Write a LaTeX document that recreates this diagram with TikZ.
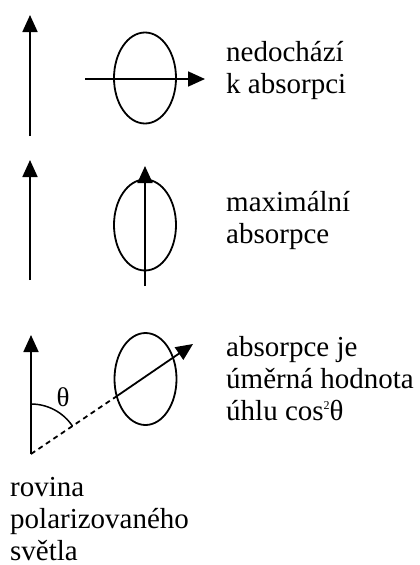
\documentclass[tikz,border=0pt]{standalone}
\usepackage{fontspec}
\setmainfont{Liberation Serif}
\usetikzlibrary{arrows.meta,shapes.geometric}
\tikzset{
  pol/.style={line width=1.8pt, -{Triangle[length=17pt,width=15pt]}},
  poldash/.style={line width=1.8pt, dash pattern=on 5pt off 4pt},
  ring/.style={draw, ellipse, line width=1.8pt, minimum width=62pt,
               minimum height=91pt, inner sep=0pt},
  caption/.style={anchor=base west, align=left, inner sep=0pt,
                  font=\fontsize{29}{32}\selectfont},
}
\newcommand{\smallsq}{\raisebox{11pt}{\fontsize{12}{12}\selectfont 2}}

\begin{document}
\begin{tikzpicture}[x=1pt, y=-1pt]
  \useasboundingbox (0,0) rectangle (420,565);
  % no absorption
  \coordinate (a1) at (30,136);
  \coordinate (b1) at (30,15);
  \draw[pol] (a1) -- (b1);
  \node[ring] (el1) at (145,78) {};
  \coordinate (h1) at (85,79);
  \coordinate (k1) at (205,79);
  \draw[pol] (h1) -- (k1);
  \node[caption] (t1) at (226,93.5) {nedochází\\k absorpci};
  % maximal absorption
  \coordinate (a2) at (30,280);
  \coordinate (b2) at (30,160);
  \draw[pol] (a2) -- (b2);
  \node[ring] (el2) at (145,225) {};
  \coordinate (h2) at (145,286);
  \coordinate (k2) at (145,166);
  \draw[pol] (h2) -- (k2);
  \node[caption] (t2) at (226,243) {maximální\\absorpce};
  % oblique
  \coordinate (o3) at (31,454);
  \coordinate (b3) at (31,335);
  \draw[pol] (o3) -- (b3);
  \node[ring, minimum height=92pt] (el3) at (145.5,379) {};
  \coordinate (c3) at (117,396);
  \coordinate (k3) at (193,344);
  \draw[poldash] (o3) -- (c3);
  \draw[pol] (c3) -- (k3);
  \draw[line width=1.5pt] (o3) ++(0,-50) arc[start angle=-90, end angle=-34, radius=50];
  \node[font=\fontsize{27}{30}\selectfont, inner sep=0pt] (th) at (63,397) {θ};
  \node[caption] (t3) at (226,420) {absorpce je\\úměrná hodnota\\úhlu cos\smallsq θ};
  % plane label
  \node[caption] (t4) at (10,560) {rovina\\polarizovaného\\světla};
\end{tikzpicture}
\end{document}
